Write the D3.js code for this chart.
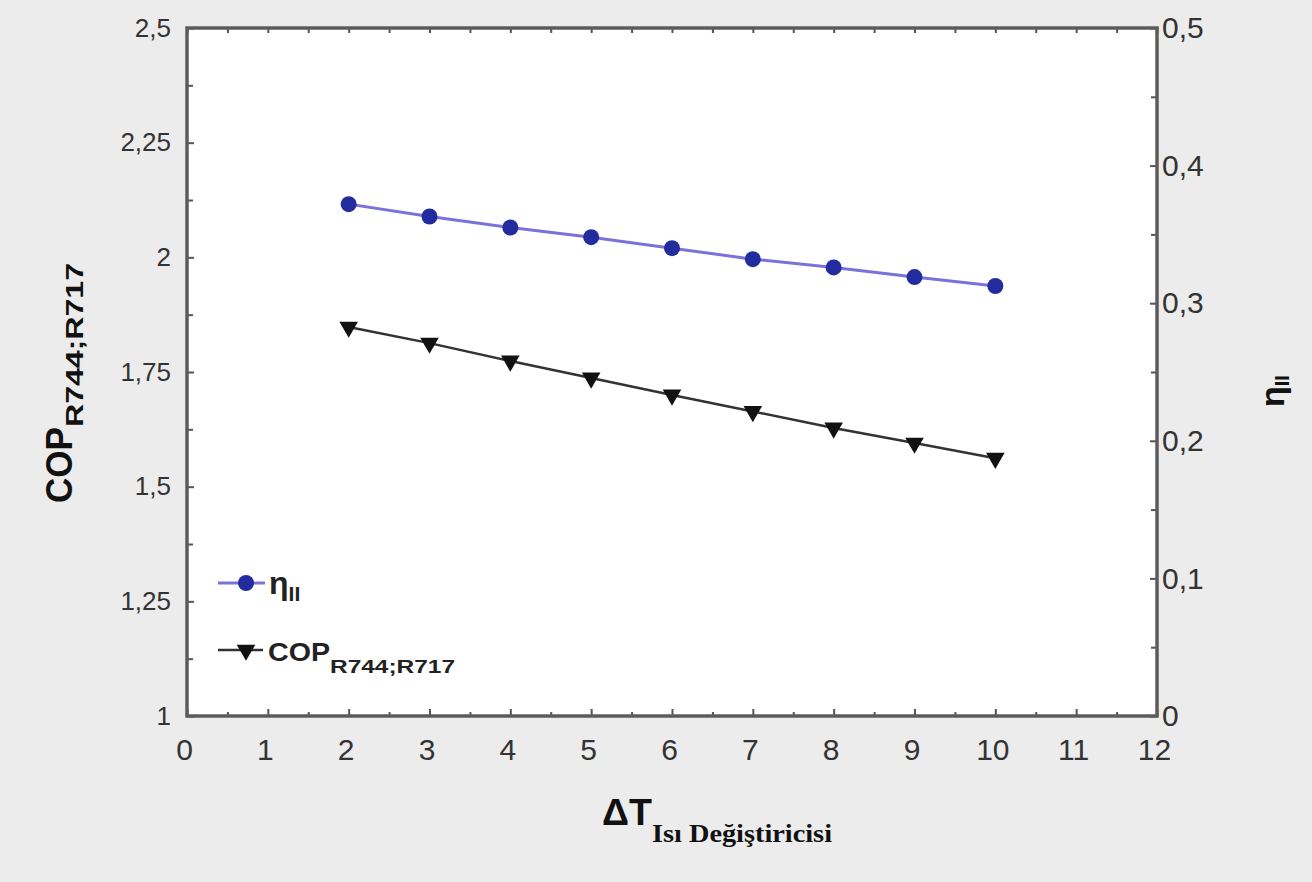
<!DOCTYPE html>
<html>
<head>
<meta charset="utf-8">
<script src="https://cdn.jsdelivr.net/npm/d3@7"></script>
<style>
  html, body { margin: 0; padding: 0; background: #ececec; }
  svg { display: block; }
  .tick text { fill: #333; font-family: "Liberation Sans", Arial, sans-serif; }
</style>
</head>
<body>
<svg id="chart" width="1312" height="882"></svg>
<script>
// x: ΔT of the heat exchanger
const deltaT = [2, 3, 4, 5, 6, 7, 8, 9, 10];
// right axis series (circles)
const etaII = [0.372, 0.363, 0.355, 0.348, 0.340, 0.332, 0.326, 0.319, 0.3125];
// left axis series (triangles)
const copR744R717 = [1.848, 1.813, 1.774, 1.737, 1.700, 1.664, 1.628, 1.595, 1.562];

const xTicks = [0, 1, 2, 3, 4, 5, 6, 7, 8, 9, 10, 11, 12];
const xMinorTicks = [0.5, 1.5, 2.5, 3.5, 4.5, 5.5, 6.5, 7.5, 8.5, 9.5, 10.5, 11.5];
const leftTicks = [1, 1.25, 1.5, 1.75, 2, 2.25, 2.5];
const leftMinorTicks = [1.125, 1.375, 1.625, 1.875, 2.125, 2.375];
const rightTicks = [0, 0.1, 0.2, 0.3, 0.4, 0.5];
const rightMinorTicks = [0.05, 0.15, 0.25, 0.35, 0.45];

const plot = { left: 187, right: 1157, top: 28, bottom: 716 };
const svg = d3.select('#chart');

const x = d3.scaleLinear().domain([0, 12]).range([plot.left, plot.right]);
const yL = d3.scaleLinear().domain([1, 2.5]).range([plot.bottom, plot.top]);
const yR = d3.scaleLinear().domain([0, 0.5]).range([plot.bottom, plot.top]);

const comma = d => String(d).replace('.', ',');
const SANS = '"Liberation Sans", Arial, sans-serif';

// plot background
svg.append('rect')
  .attr('x', plot.left).attr('y', plot.top)
  .attr('width', plot.right - plot.left).attr('height', plot.bottom - plot.top)
  .attr('fill', '#fff');

// axes
function styleAxis(g, size) {
  g.select('.domain').remove();
  g.selectAll('.tick line').attr('stroke', '#555').attr('stroke-width', 2);
  g.selectAll('.tick text').attr('font-size', size);
}

svg.append('g').attr('transform', `translate(0,${plot.bottom})`)
  .call(d3.axisBottom(x).tickValues(xTicks).tickSize(-7).tickPadding(18).tickFormat(d => d))
  .call(g => styleAxis(g, 30))
  .call(g => g.selectAll('.tick text').attr('dy', '0.85em').attr('dx', -3));
svg.append('g').attr('transform', `translate(0,${plot.bottom})`)
  .call(d3.axisBottom(x).tickValues(xMinorTicks).tickSize(-4).tickFormat(''))
  .call(g => styleAxis(g, 0));

// top ticks
svg.append('g').attr('transform', `translate(0,${plot.top})`)
  .call(d3.axisTop(x).tickValues(xTicks.concat(xMinorTicks)).tickSize(-5).tickFormat(''))
  .call(g => styleAxis(g, 0));

svg.append('g').attr('transform', `translate(${plot.left},0)`)
  .call(d3.axisLeft(yL).tickValues(leftTicks).tickSize(-7).tickPadding(16).tickFormat(comma))
  .call(g => styleAxis(g, 26));
svg.append('g').attr('transform', `translate(${plot.left},0)`)
  .call(d3.axisLeft(yL).tickValues(leftMinorTicks).tickSize(-6).tickFormat(''))
  .call(g => styleAxis(g, 0));

svg.append('g').attr('transform', `translate(${plot.right},0)`)
  .call(d3.axisRight(yR).tickValues(rightTicks).tickSize(-7).tickPadding(5).tickFormat(comma))
  .call(g => styleAxis(g, 30));
svg.append('g').attr('transform', `translate(${plot.right},0)`)
  .call(d3.axisRight(yR).tickValues(rightMinorTicks).tickSize(-6).tickFormat(''))
  .call(g => styleAxis(g, 0));

// frame
svg.append('rect')
  .attr('x', plot.left).attr('y', plot.top)
  .attr('width', plot.right - plot.left).attr('height', plot.bottom - plot.top)
  .attr('fill', 'none').attr('stroke', '#5c5c5c').attr('stroke-width', 3.5);

// series
const pts = (ys, scale) => deltaT.map((d, i) => [x(d), scale(ys[i])]);

svg.append('path')
  .attr('d', d3.line()(pts(etaII, yR)))
  .attr('fill', 'none').attr('stroke', '#7a72d8').attr('stroke-width', 3);
svg.append('g').selectAll('circle')
  .data(pts(etaII, yR))
  .join('circle')
  .attr('cx', d => d[0]).attr('cy', d => d[1]).attr('r', 8)
  .attr('fill', '#232c9e');

svg.append('path')
  .attr('d', d3.line()(pts(copR744R717, yL)))
  .attr('fill', 'none').attr('stroke', '#333').attr('stroke-width', 2.5);
const tri = d3.symbol().type(d3.symbolTriangle).size(150);
svg.append('g').selectAll('path')
  .data(pts(copR744R717, yL))
  .join('path')
  .attr('d', tri)
  .attr('transform', d => `translate(${d[0]},${d[1]}) rotate(180)`)
  .attr('fill', '#111');

// legend
const legend = svg.append('g');
legend.append('line').attr('x1', 218).attr('x2', 265).attr('y1', 583).attr('y2', 583)
  .attr('stroke', '#7a72d8').attr('stroke-width', 3);
legend.append('circle').attr('cx', 246).attr('cy', 583).attr('r', 8).attr('fill', '#232c9e');
const legText1 = legend.append('text').attr('x', 269).attr('y', 594)
  .attr('font-family', SANS).attr('font-weight', 'bold').attr('fill', '#222');
legText1.append('tspan').attr('font-size', 32).text('η');
legText1.append('tspan').attr('font-size', 21).attr('dy', 7).text('II');

legend.append('line').attr('x1', 218).attr('x2', 263).attr('y1', 650).attr('y2', 650)
  .attr('stroke', '#333').attr('stroke-width', 2.5);
legend.append('path').attr('d', tri)
  .attr('transform', 'translate(246,650) rotate(180)').attr('fill', '#111');
const legText2 = legend.append('text').attr('x', 268).attr('y', 661)
  .attr('font-family', SANS).attr('font-weight', 'bold').attr('fill', '#222');
legText2.append('tspan').attr('font-size', 26).attr('textLength', 62).attr('lengthAdjust', 'spacingAndGlyphs').text('COP');
legText2.append('tspan').attr('font-size', 19).attr('dy', 12).attr('textLength', 125).attr('lengthAdjust', 'spacingAndGlyphs').text('R744;R717');

// left axis title
const yTitle = svg.append('text')
  .attr('transform', 'translate(72,503) rotate(-90)')
  .attr('font-family', SANS).attr('font-weight', 'bold').attr('fill', '#111');
yTitle.append('tspan').attr('font-size', 37).attr('textLength', 76).attr('lengthAdjust', 'spacingAndGlyphs').text('COP');
yTitle.append('tspan').attr('font-size', 24).attr('dy', 11).attr('textLength', 164).attr('lengthAdjust', 'spacingAndGlyphs').text('R744;R717');

// right axis title
const yRTitle = svg.append('text')
  .attr('transform', 'translate(1284,407) rotate(-90)')
  .attr('font-family', SANS).attr('font-weight', 'bold').attr('fill', '#111');
yRTitle.append('tspan').attr('font-size', 34).text('η');
yRTitle.append('tspan').attr('font-size', 20).attr('dy', 5).text('II');

// x axis title
const xTitle = svg.append('text').attr('x', 602).attr('y', 825)
  .attr('font-weight', 'bold').attr('fill', '#111');
xTitle.append('tspan').attr('font-family', SANS)
  .attr('font-size', 36).attr('textLength', 50).attr('lengthAdjust', 'spacingAndGlyphs').text('ΔT');
xTitle.append('tspan').attr('font-family', '"Liberation Serif", "Times New Roman", serif')
  .attr('font-size', 25).attr('dy', 17).attr('textLength', 180).attr('lengthAdjust', 'spacingAndGlyphs')
  .text('Isı Değiştiricisi');
</script>
</body>
</html>
